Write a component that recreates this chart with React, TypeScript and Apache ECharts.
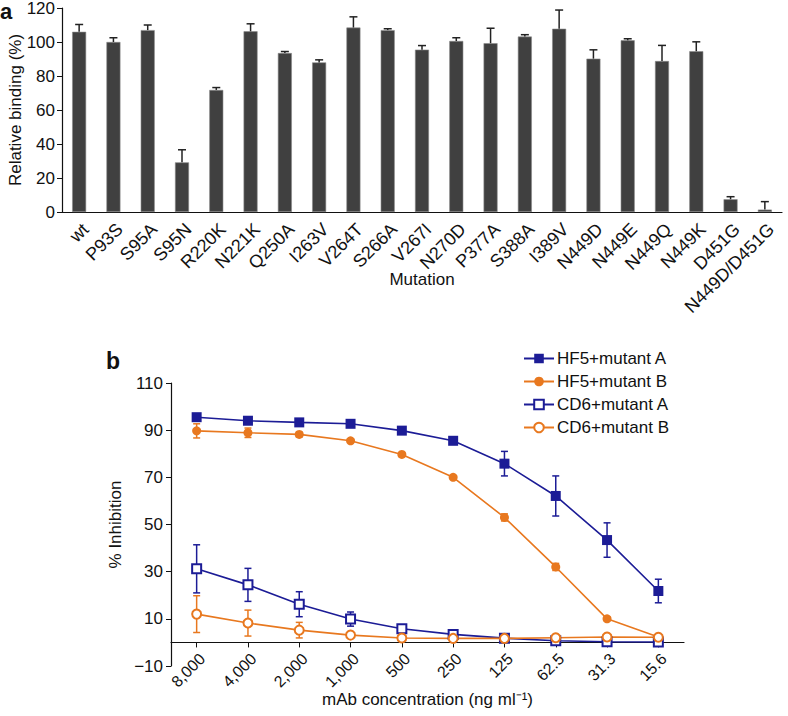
import React, { useEffect, useRef } from 'react';
import * as echarts from 'echarts';

const mutations = ['wt', 'P93S', 'S95A', 'S95N', 'R220K', 'N221K', 'Q250A', 'I263V', 'V264T', 'S266A', 'V267I', 'N270D', 'P377A', 'S388A', 'I389V', 'N449D', 'N449E', 'N449Q', 'N449K', 'D451G', 'N449D/D451G'];
const binding = [106, 100, 107, 29.2, 71.8, 106.3, 93.5, 88, 108.5, 107, 95.5, 100.6, 99.3, 103.2, 107.8, 90.2, 101, 88.8, 94.6, 7.5, 1.4];
const bindingErr = [4.3, 2.5, 3, 7.4, 1.4, 4.4, 0.9, 1.5, 6.3, 0.8, 2.4, 1.9, 8.8, 1.1, 11, 5.2, 0.9, 9.2, 5.5, 1.5, 4.7];

const concentrations = ['8,000', '4,000', '2,000', '1,000', '500', '250', '125', '62.5', '31.3', '15.6'];
const hf5A = [95.5, 94, 93.3, 92.7, 89.8, 85.5, 75.8, 62.1, 43.4, 21.8];
const hf5AErr = [1, 0.8, 0.8, 0.8, 0.8, 1.5, 5.2, 8.5, 7.3, 5];
const hf5B = [89.7, 88.9, 88.2, 85.5, 79.7, 70, 53, 32, 10, 2.3];
const hf5BErr = [3, 2, 1, 0.7, 0.8, 0.6, 1.5, 1.5, 0.8, 0.8];
const cd6A = [31.2, 24.4, 16.2, 9.9, 5.8, 3.4, 1.8, 0.7, 0.3, 0.2];
const cd6AErr = [10.2, 7, 5.3, 3, 1, 0.6, 0.6, 0.4, 0.3, 0.3];
const cd6B = [12, 8.2, 5.2, 3.1, 1.9, 1.7, 1.7, 2, 2.3, 2.2];
const cd6BErr = [7.8, 5.5, 3.3, 1, 0.6, 0.5, 0.5, 0.6, 0.7, 0.5];

const FONT = '"Liberation Sans", Arial, Helvetica, sans-serif';
const BLUE = '#1c1c96';
const ORANGE = '#e8781f';
const TXT = '#111111';

// bottom panel geometry: y from -10 to 110 over 283 px; x axis line sits at y = 0
const B_TOP = 383;
const B_H = 283;
const B_MIN = -10;
const B_MAX = 110;
const ZERO_OFFSET = -((0 - B_MIN) / (B_MAX - B_MIN)) * B_H;

function errorSeries(name: string, xi: number, yi: number, vals: number[], errs: number[], color: string, both: boolean, cap: number, lw: number) {
  const data = vals.map((v, i) => [i, both ? v - errs[i] : v, v + errs[i]]);
  return {
    type: 'custom',
    name,
    xAxisIndex: xi,
    yAxisIndex: yi,
    z: 5,
    silent: true,
    encode: { x: 0, y: [1, 2] },
    data,
    renderItem: (params: any, api: any) => {
      const x = api.value(0);
      const lo = api.value(1);
      const hi = api.value(2);
      const p1 = api.coord([x, lo]);
      const p2 = api.coord([x, hi]);
      const style = { stroke: color, lineWidth: lw };
      const children: any[] = [
        { type: 'line', shape: { x1: p1[0], y1: p1[1], x2: p2[0], y2: p2[1] }, style },
        { type: 'line', shape: { x1: p2[0] - cap, y1: p2[1], x2: p2[0] + cap, y2: p2[1] }, style },
      ];
      if (both) {
        children.push({ type: 'line', shape: { x1: p1[0] - cap, y1: p1[1], x2: p1[0] + cap, y2: p1[1] }, style });
      }
      return { type: 'group', children };
    },
  };
}

export default function App() {
  const ref = useRef<HTMLDivElement>(null);
  useEffect(() => {
    if (!ref.current) return;
    const chart = echarts.init(ref.current, null, { renderer: 'svg' });
    const axisLine = { show: true, lineStyle: { color: '#111', width: 1.2 } };
    const option: any = {
      animation: false,
      backgroundColor: '#ffffff',
      textStyle: { fontFamily: FONT, color: TXT },
      graphic: [
        { type: 'text', left: 0, top: 0, style: { text: 'a', font: `bold 22px ${FONT}`, fill: TXT } },
        { type: 'text', left: 106, top: 349, style: { text: 'b', font: `bold 23px ${FONT}`, fill: TXT } },
      ],
      legend: {
        orient: 'vertical',
        left: 523,
        top: 350,
        itemWidth: 30,
        itemHeight: 12,
        itemGap: 6,
        padding: 0,
        data: ['HF5+mutant A', 'HF5+mutant B', 'CD6+mutant A', 'CD6+mutant B'],
        textStyle: { fontSize: 17, color: TXT, fontFamily: FONT, padding: [0, 0, 0, -2] },
      },
      grid: [
        { left: 62, right: 6, top: 8, height: 204, containLabel: false, outerBoundsMode: 'none' },
        { left: 171, right: 104, top: B_TOP, height: B_H, containLabel: false, outerBoundsMode: 'none' },
      ],
      xAxis: [
        {
          type: 'category',
          gridIndex: 0,
          data: mutations,
          axisLine,
          axisTick: { show: false },
          axisLabel: { rotate: 45, fontSize: 18, color: TXT, fontFamily: FONT, margin: 8, interval: 0, verticalAlign: 'top' },
          name: 'Mutation',
          nameLocation: 'middle',
          nameGap: 59,
          nameMoveOverlap: false,
          nameTextStyle: { fontSize: 17, color: TXT, fontFamily: FONT },
        },
        {
          type: 'category',
          gridIndex: 1,
          data: concentrations,
          boundaryGap: true,
          offset: ZERO_OFFSET,
          axisLine: { ...axisLine, onZero: false },
          axisTick: { show: true, alignWithLabel: true, length: 5, lineStyle: { color: '#111' } },
          axisLabel: { rotate: 45, fontSize: 16, color: TXT, fontFamily: FONT, margin: 8, interval: 0, verticalAlign: 'top' },
          name: 'mAb concentration (ng ml\u207B\u00B9)',
          nameLocation: 'middle',
          nameGap: 49,
          nameMoveOverlap: false,
          nameTextStyle: { fontSize: 17, color: TXT, fontFamily: FONT },
        },
      ],
      yAxis: [
        {
          type: 'value',
          gridIndex: 0,
          min: 0,
          max: 120,
          interval: 20,
          axisLine,
          axisTick: { show: true, length: 5, lineStyle: { color: '#111' } },
          splitLine: { show: false },
          axisLabel: { fontSize: 17, color: TXT, fontFamily: FONT, margin: 7 },
          name: 'Relative binding (%)',
          nameLocation: 'middle',
          nameGap: 38,
          nameMoveOverlap: false,
          nameTextStyle: { fontSize: 17, color: TXT, fontFamily: FONT },
        },
        {
          type: 'value',
          gridIndex: 1,
          min: B_MIN,
          max: B_MAX,
          axisLine,
          axisTick: { show: true, length: 5, lineStyle: { color: '#111' }, customValues: [-10, 10, 30, 50, 70, 90, 110] },
          splitLine: { show: false },
          axisLabel: {
            fontSize: 17,
            color: TXT,
            fontFamily: FONT,
            margin: 8,
            customValues: [-10, 10, 30, 50, 70, 90, 110],
            formatter: (v: number) => (v < 0 ? '\u2212' + Math.abs(v) : String(v)),
          },
          name: '% Inhibition',
          nameLocation: 'middle',
          nameGap: 47,
          nameMoveOverlap: false,
          nameTextStyle: { fontSize: 17, color: TXT, fontFamily: FONT },
        },
      ],
      series: [
        {
          type: 'bar',
          name: 'Relative binding',
          xAxisIndex: 0,
          yAxisIndex: 0,
          data: binding,
          barWidth: 14,
          itemStyle: { color: '#404040', borderColor: '#8a8a8a', borderWidth: 0.6 },
        },
        errorSeries('bindingErr', 0, 0, binding, bindingErr, '#222222', false, 4, 1.5),
        errorSeries('hf5AErr', 1, 1, hf5A, hf5AErr, BLUE, true, 3.5, 1.5),
        errorSeries('hf5BErr', 1, 1, hf5B, hf5BErr, ORANGE, true, 3.5, 1.5),
        errorSeries('cd6AErr', 1, 1, cd6A, cd6AErr, BLUE, true, 3.5, 1.5),
        errorSeries('cd6BErr', 1, 1, cd6B, cd6BErr, ORANGE, true, 3.5, 1.5),
        {
          type: 'line', name: 'HF5+mutant A', xAxisIndex: 1, yAxisIndex: 1, data: hf5A,
          symbol: 'rect', symbolSize: 10, z: 6,
          lineStyle: { color: BLUE, width: 1.6 }, itemStyle: { color: BLUE },
        },
        {
          type: 'line', name: 'HF5+mutant B', xAxisIndex: 1, yAxisIndex: 1, data: hf5B,
          symbol: 'circle', symbolSize: 9, z: 6,
          lineStyle: { color: ORANGE, width: 1.6 }, itemStyle: { color: ORANGE },
        },
        {
          type: 'line', name: 'CD6+mutant A', xAxisIndex: 1, yAxisIndex: 1, data: cd6A,
          symbol: 'emptyRect', symbolSize: 9, z: 6,
          lineStyle: { color: BLUE, width: 1.6 }, itemStyle: { color: BLUE, borderWidth: 1.5 },
        },
        {
          type: 'line', name: 'CD6+mutant B', xAxisIndex: 1, yAxisIndex: 1, data: cd6B,
          symbol: 'emptyCircle', symbolSize: 9, z: 6,
          lineStyle: { color: ORANGE, width: 1.6 }, itemStyle: { color: ORANGE, borderWidth: 1.5 },
        },
      ],
    };
    chart.setOption(option);
    return () => chart.dispose();
  }, []);
  return (
    <div
      ref={ref}
      style={{ position: 'fixed', left: 0, top: 0, width: 788, height: 716, background: '#fff' }}
    />
  );
}
